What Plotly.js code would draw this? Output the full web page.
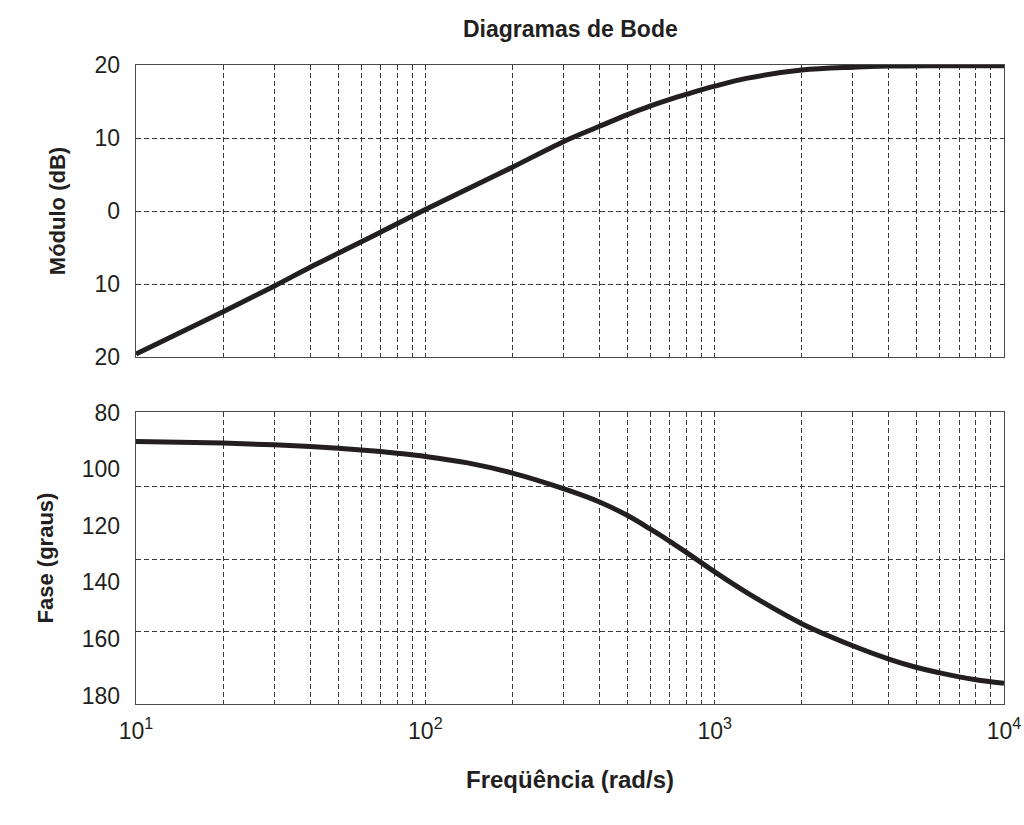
<!DOCTYPE html>
<html>
<head>
<meta charset="utf-8">
<script src="https://cdn.plot.ly/plotly-3.0.1.min.js"></script>
<style>html,body{margin:0;padding:0;background:#fff;}#chart{width:1024px;height:825px;}</style>
</head>
<body>
<div id="chart"></div>
<script>
// Frequencies (rad/s)
const freqMag = [10, 20, 30, 40, 50, 70, 100, 150, 200, 300, 400, 500, 600, 700, 800, 1000, 1300, 2000, 3000, 4000, 6000, 10000];
const magDb   = [-19.6, -13.8, -10.3, -7.7, -5.8, -2.9, 0.2, 3.6, 6.0, 9.5, 11.6, 13.2, 14.4, 15.3, 16.0, 17.1, 18.2, 19.3, 19.7, 19.85, 19.9, 19.9];

const freqPhase = [10, 20, 30, 40, 50, 60, 70, 80, 100, 140, 200, 300, 400, 500, 600, 700, 800, 1000, 1300, 2000, 3000, 4000, 5000, 6000, 7000, 8000, 10000];
const phaseDeg  = [90.2, 90.8, 91.4, 92.0, 92.6, 93.2, 93.8, 94.4, 95.5, 97.8, 101.4, 106.9, 111.6, 116.4, 121.2, 125.5, 129.5, 136.3, 143.8, 154.6, 162.4, 167.1, 170.1, 172.0, 173.4, 174.4, 175.7];

// Axis ticks / labels as printed
const magTickVals = [20, 10, 0, -10, -20];
const magTickText = ["20", "10", "0", "10", "20"];
const phaseTickVals = [80, 100, 120, 140, 160, 180];
const phaseTickText = ["80", "100", "120", "140", "160", "180"];
const phaseGridVals = [106.1, 131.9, 157.3];
const freqDecades = [10, 100, 1000, 10000];
const freqDecadeText = ["10<sup>1</sup>", "10<sup>2</sup>", "10<sup>3</sup>", "10<sup>4</sup>"];
const freqMinorVals = [20,30,40,50,60,70,80,90,200,300,400,500,600,700,800,900,2000,3000,4000,5000,6000,7000,8000,9000];

const font = "Liberation Sans, Arial, Helvetica, sans-serif";
const ink = "#231f20";
const dash = {gridcolor: "#3a3a3a", gridwidth: 1, griddash: "5px,3px"};
const frame = {showline: true, linecolor: "#4a4a4a", linewidth: 1.3, mirror: true, zeroline: false, ticks: ""};

function xAxis(anchor, labels) {
  return Object.assign({
    type: "log", range: [1, 4], anchor: anchor,
    tickmode: "array", tickvals: freqDecades, ticktext: freqDecadeText,
    showticklabels: labels, ticklabelstandoff: 6,
    showgrid: true,
    minor: Object.assign({tickmode: "array", tickvals: freqMinorVals, showgrid: true, ticks: ""}, dash)
  }, dash, frame);
}

const curve = {color: ink, width: 5, shape: "spline", smoothing: 1};
const traces = [
  {x: freqMag, y: magDb, xaxis: "x", yaxis: "y", type: "scatter", mode: "lines", line: curve},
  {x: freqPhase, y: phaseDeg, xaxis: "x2", yaxis: "y2", type: "scatter", mode: "lines", line: curve}
];

const xTop = xAxis("y", false);
const xBot = xAxis("y2", true);
xBot.title = {text: "<b>Freqüência (rad/s)</b>", font: {size: 24}, standoff: 28};

const layout = {
  width: 1024, height: 825,
  paper_bgcolor: "#fff", plot_bgcolor: "#fff",
  showlegend: false,
  margin: {l: 136, r: 20, t: 65, b: 121},
  font: {family: font, color: ink, size: 23},
  title: {text: "<b>Diagramas de Bode</b>", font: {family: font, size: 23, color: ink}, x: 0.557, xanchor: "center", y: 0.965, yanchor: "middle"},
  xaxis: xTop,
  xaxis2: xBot,
  yaxis: Object.assign({range: [-20, 20], domain: [0.543, 1], anchor: "x", tickmode: "array", tickvals: magTickVals, ticktext: magTickText, ticklabelstandoff: 10,
    showgrid: true, title: {text: "<b>Módulo (dB)</b>", font: {size: 22}, standoff: 22}}, dash, frame),
  yaxis2: Object.assign({range: [183, 79.8], domain: [0, 0.457], anchor: "x2", tickmode: "array", tickvals: phaseTickVals, ticktext: phaseTickText, ticklabelstandoff: 10,
    showgrid: false,
    minor: Object.assign({tickmode: "array", tickvals: phaseGridVals, showgrid: true, ticks: ""}, dash),
    title: {text: "<b>Fase (graus)</b>", font: {size: 22}, standoff: 22}}, frame)
};

Plotly.newPlot("chart", traces, layout, {displayModeBar: false, staticPlot: true});
</script>
</body>
</html>
